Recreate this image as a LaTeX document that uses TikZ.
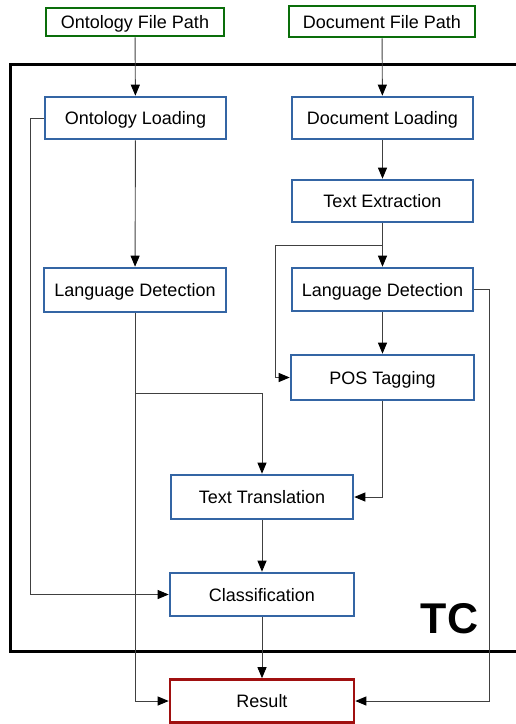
\documentclass[tikz,border=0pt]{standalone}
\usepackage{fontspec}
\setmainfont{Liberation Sans}
\usetikzlibrary{arrows.meta}
\definecolor{blueC}{HTML}{3465A4}
\definecolor{greenC}{HTML}{0A6E0A}
\definecolor{redC}{HTML}{A01010}
\tikzset{
  box/.style={draw=blueC, line width=2.6pt, fill=white, inner sep=0pt,
    font=\fontsize{18}{20}\selectfont, text=black, text height=13pt, text depth=0pt},
  gbox/.style={box, draw=greenC},
  rbox/.style={box, draw=redC},
  arr/.style={draw=black!75, line width=0.9pt, -{Triangle[length=11pt,width=9pt,color=black]}},
}
\begin{document}
\begin{tikzpicture}[x=1pt,y=-1pt]
\useasboundingbox (0,0) rectangle (516,724);
% TC frame
\draw[line width=3pt, line join=miter] (518,64) -- (10,64) -- (10,651) -- (518,651);
\node[font=\fontsize{43}{43}\selectfont\bfseries] (tc) at (449.5,619) {TC};
% nodes
\node[gbox, minimum width=178pt, minimum height=28pt] (ofp) at (135,22) {Ontology File Path};
\node[gbox, minimum width=186pt, minimum height=31pt] (dfp) at (382,21.5) {Document File Path};
\node[box, minimum width=181pt, minimum height=42pt] (ol) at (135.5,118) {Ontology Loading};
\node[box, minimum width=181pt, minimum height=42pt] (dl) at (382.5,118) {Document Loading};
\node[box, minimum width=181pt, minimum height=42pt] (te) at (382.5,201) {Text Extraction};
\node[box, minimum width=182pt, minimum height=44pt] (ldl) at (135,290) {Language Detection};
\node[box, minimum width=181pt, minimum height=43pt] (ldr) at (382.5,289.5) {Language Detection};
\node[box, minimum width=183pt, minimum height=45pt] (pos) at (382.5,377.5) {POS Tagging};
\node[box, minimum width=182pt, minimum height=44pt] (tt) at (262,497) {Text Translation};
\node[box, minimum width=184pt, minimum height=43pt] (cls) at (262,594.5) {Classification};
\node[rbox, minimum width=184pt, minimum height=43pt] (res) at (262,701) {Result};
% junctions
\coordinate (j1) at (382.5,245);
\coordinate (j2) at (135,393);
% connectors
\draw[arr] (ofp) -- (ol);
\draw[arr] (dfp) -- (dl);
\draw[arr] (dl) -- (te);
\draw[arr] (te) -- (ldr);
\draw[arr] (j1) -- (275,245) |- (pos.west);
\draw[arr] (ol.west) -- (30,118) |- (cls.west);
\draw[arr] (ol) -- (ldl);
\draw[arr] (ldl.south) |- (res.west);
\draw[arr] (j2) -| (tt.north);
\draw[arr] (ldr) -- (pos);
\draw[arr] (ldr.east) -- (489,289.5) |- (res.east);
\draw[arr] (pos.south) |- (tt.east);
\draw[arr] (tt) -- (cls);
\draw[arr] (cls) -- (res);
\end{tikzpicture}
\end{document}
